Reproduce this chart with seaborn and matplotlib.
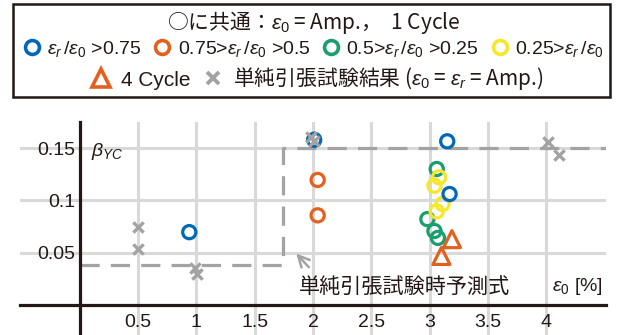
import numpy as np
import pandas as pd
import seaborn as sns
import matplotlib.pyplot as plt
from matplotlib.lines import Line2D
from matplotlib.patches import Rectangle

# data
blue_x = [0.94, 2.01, 3.15, 3.17]
blue_y = [0.0695, 0.158, 0.1565, 0.106]
orange_x = [2.04, 2.04]
orange_y = [0.1195, 0.0856]
green_x = [3.06, 2.98, 3.04, 3.07]
green_y = [0.130, 0.082, 0.0706, 0.064]
yellow_x = [3.08, 3.04, 3.11, 3.06]
yellow_y = [0.122, 0.114, 0.0965, 0.0894]
tri_x = [3.19, 3.10]
tri_y = [0.0628, 0.0467]
tensile_x = [0.5, 0.5, 0.985, 1.01, 1.98, 2.01, 4.01, 4.11]
tensile_y = [0.074, 0.0535, 0.0355, 0.029, 0.161, 0.157, 0.1555, 0.143]
pred_x = [0, 1.74, 1.74, 4.6]
pred_y = [0.0378, 0.0378, 0.15, 0.15]
xticks = [0.5, 1, 1.5, 2, 2.5, 3, 3.5, 4]
xticklabels = ['0.5', '1', '1.5', '2', '2.5', '3', '3.5', '4']
yticks = [0.05, 0.1, 0.15]
yticklabels = ['0.05', '0.1', '0.15']

BLUE = '#0068b7'
ORANGE = '#e3611f'
GREEN = '#1a9e6e'
YELLOW = '#f5e82a'
GRAY = '#a3a3a3'
DARK = '#231815'
JP = ['Noto Sans CJK JP', 'DejaVu Sans']

sns.set_theme(style='white')
plt.rcParams['font.family'] = ['Liberation Sans', 'Noto Sans CJK JP']
plt.rcParams['mathtext.fontset'] = 'custom'
plt.rcParams['mathtext.rm'] = 'Liberation Sans'
plt.rcParams['mathtext.it'] = 'Liberation Sans:italic'

fig = plt.figure(figsize=(6.17, 3.35), dpi=100)
ax = fig.add_axes([20 / 617, 0.0, 586 / 617, 213 / 335])
ax.set_xlim(-0.51, 4.51)
ax.set_ylim(-0.029, 0.175)

# grid
for x in xticks:
    ax.axvline(x, color='#d9d9d9', lw=2.2, zorder=0)
for y in yticks:
    ax.axhline(y, color='#d9d9d9', lw=2.2, zorder=0)

# prediction line (simple tensile)
sns.lineplot(x=pred_x, y=pred_y, ax=ax, color=GRAY, lw=2.3, sort=False,
             estimator=None, zorder=1, dashes=False)
ax.lines[-1].set_dashes([6, 3.5])

# data points
ckw = dict(marker='o', s=90, facecolor='none', linewidth=2.3, zorder=3, legend=False)
sns.scatterplot(x=green_x, y=green_y, edgecolor=GREEN, ax=ax, **ckw)
sns.scatterplot(x=yellow_x, y=yellow_y, edgecolor=YELLOW, ax=ax, **ckw)
sns.scatterplot(x=blue_x, y=blue_y, edgecolor=BLUE, ax=ax, **ckw)
sns.scatterplot(x=orange_x, y=orange_y, edgecolor=ORANGE, ax=ax, **ckw)
sns.scatterplot(x=tri_x, y=tri_y, marker='^', s=150, facecolor='none', edgecolor=ORANGE,
                linewidth=2.3, zorder=4, ax=ax, legend=False)
sns.scatterplot(x=tensile_x, y=tensile_y, marker='x', s=55, color=GRAY,
                linewidth=2.4, zorder=4, ax=ax, legend=False)

# axes at zero
for side in ['top', 'right']:
    ax.spines[side].set_visible(False)
for side in ['left', 'bottom']:
    ax.spines[side].set_position(('data', 0))
    ax.spines[side].set_color(DARK)
    ax.spines[side].set_linewidth(2.3)
    ax.spines[side].set_zorder(2)
ax.set_xticks(xticks)
ax.set_xticklabels(xticklabels)
ax.set_yticks(yticks)
ax.set_yticklabels(yticklabels)
ax.tick_params(axis='both', length=0, labelsize=14, colors=DARK)
ax.tick_params(axis='x', pad=7)
ax.tick_params(axis='y', pad=3)

ax.text(0.1, 0.147, r'$\beta_{YC}$', fontsize=14, color=DARK, va='center')
ax.text(4.48, 0.0173, r'$\varepsilon_0$ [%]', fontsize=14, color=DARK,
        ha='right', va='center')
ax.text(1.88, 0.0173, '単純引張試験時予測式', fontsize=15.2, color=DARK,
        ha='left', va='center', family=JP)
ax.annotate('', xy=(1.84, 0.051), xytext=(1.98, 0.034),
            arrowprops=dict(arrowstyle='->', color=GRAY, lw=1.8,
                            mutation_scale=20))

# legend box
fig.patches.append(Rectangle((13 / 617, 1 - 97 / 335), 597 / 617, 93 / 335,
                             transform=fig.transFigure, fill=False,
                             edgecolor=DARK, lw=1.8))
fig.text(314 / 617, 1 - 22 / 335, '○に共通：$\\varepsilon_0$ = Amp.，  1 Cycle',
         fontsize=15, ha='center', va='center', color=DARK, family=JP)

def circ(c):
    return Line2D([], [], ls='none', marker='o', markersize=10, mfc='none',
                  mec=c, mew=2.6)

h2 = [circ(BLUE), circ(ORANGE), circ(GREEN), circ(YELLOW)]
l2 = [r'$\varepsilon_r\,/\varepsilon_0$ >0.75',
      r'0.75>$\varepsilon_r\,/\varepsilon_0$ >0.5',
      r'0.5>$\varepsilon_r\,/\varepsilon_0$ >0.25',
      r'0.25>$\varepsilon_r\,/\varepsilon_0$']
leg2 = fig.legend(h2, l2, ncol=4, loc='center', bbox_to_anchor=(313 / 617, 1 - 49 / 335),
                  frameon=False, fontsize=14, handlelength=1.0, handletextpad=0.3,
                  columnspacing=0.55, borderpad=0, labelcolor=DARK)

h3 = [Line2D([], [], ls='none', marker='^', markersize=12.5, mfc='none', mec=ORANGE, mew=2.6),
      Line2D([], [], ls='none', marker='x', markersize=8.5, mec=GRAY, mew=2.8)]
l3 = ['4 Cycle', r'単純引張試験結果 ($\varepsilon_0$ = $\varepsilon_r$ = Amp.)']
leg3 = fig.legend(h3, l3, ncol=2, loc='center', bbox_to_anchor=(317 / 617, 1 - 79 / 335),
                  frameon=False, fontsize=15, handlelength=1.0, handletextpad=0.45,
                  columnspacing=0.6, borderpad=0, labelcolor=DARK)
leg3.get_texts()[1].set_fontfamily(JP)

fig.savefig('out.png', dpi=100)
